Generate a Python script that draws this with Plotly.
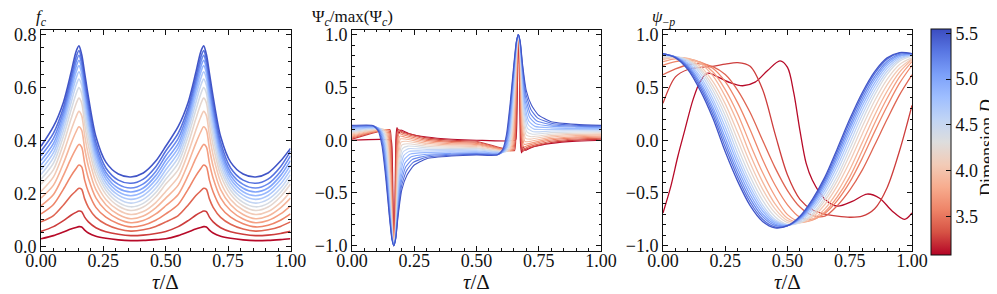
import plotly.graph_objects as go
from plotly.colors import sample_colorscale

# ---------------- data ----------------
# dimension D of each curve (red = low D, blue = high D)
D = [3.10, 3.26, 3.42, 3.58, 3.74, 3.90, 4.06, 4.22, 4.38, 4.54, 4.70, 4.86, 5.02, 5.18, 5.34, 5.50]
D_RANGE = [3.08, 5.55]

# panel 1 : f_c
fc_tau = [0, 0.05, 0.09, 0.12, 0.14, 0.152, 0.163, 0.175, 0.19, 0.22, 0.26, 0.31, 0.36, 0.41, 0.46,
          0.5, 0.55, 0.59, 0.62, 0.64, 0.652, 0.663, 0.675, 0.69, 0.72, 0.76, 0.81, 0.86, 0.91, 0.96, 1.0]
fc = [
    [0.028, 0.040, 0.054, 0.065, 0.071, 0.074, 0.073, 0.061, 0.050, 0.038, 0.030, 0.024, 0.021, 0.022, 0.025,
     0.028, 0.040, 0.054, 0.065, 0.071, 0.074, 0.073, 0.061, 0.050, 0.038, 0.030, 0.024, 0.021, 0.022, 0.025, 0.028],
    [0.056, 0.074, 0.097, 0.117, 0.128, 0.133, 0.131, 0.110, 0.092, 0.070, 0.055, 0.045, 0.040, 0.042, 0.048,
     0.056, 0.074, 0.097, 0.117, 0.128, 0.133, 0.131, 0.110, 0.092, 0.070, 0.055, 0.045, 0.040, 0.042, 0.048, 0.056],
    [0.092, 0.116, 0.156, 0.191, 0.209, 0.219, 0.215, 0.179, 0.147, 0.109, 0.083, 0.065, 0.057, 0.062, 0.075,
     0.092, 0.116, 0.156, 0.191, 0.209, 0.219, 0.215, 0.179, 0.147, 0.109, 0.083, 0.065, 0.057, 0.062, 0.075, 0.092],
    [0.122, 0.158, 0.216, 0.265, 0.293, 0.307, 0.300, 0.250, 0.205, 0.147, 0.110, 0.085, 0.073, 0.079, 0.098,
     0.122, 0.158, 0.216, 0.265, 0.293, 0.307, 0.300, 0.250, 0.205, 0.147, 0.110, 0.085, 0.073, 0.079, 0.098, 0.122],
    [0.153, 0.196, 0.268, 0.331, 0.368, 0.385, 0.375, 0.314, 0.257, 0.183, 0.135, 0.103, 0.089, 0.097, 0.122,
     0.153, 0.196, 0.268, 0.331, 0.368, 0.385, 0.375, 0.314, 0.257, 0.183, 0.135, 0.103, 0.089, 0.097, 0.122, 0.153],
    [0.182, 0.231, 0.314, 0.388, 0.432, 0.452, 0.439, 0.370, 0.302, 0.214, 0.157, 0.120, 0.104, 0.114, 0.145,
     0.182, 0.231, 0.314, 0.388, 0.432, 0.452, 0.439, 0.370, 0.302, 0.214, 0.157, 0.120, 0.104, 0.114, 0.145, 0.182],
    [0.207, 0.262, 0.354, 0.437, 0.488, 0.510, 0.494, 0.419, 0.344, 0.243, 0.177, 0.137, 0.120, 0.131, 0.165,
     0.207, 0.262, 0.354, 0.437, 0.488, 0.510, 0.494, 0.419, 0.344, 0.243, 0.177, 0.137, 0.120, 0.131, 0.165, 0.207],
    [0.235, 0.290, 0.388, 0.480, 0.537, 0.560, 0.542, 0.462, 0.381, 0.269, 0.196, 0.152, 0.135, 0.148, 0.187,
     0.235, 0.290, 0.388, 0.480, 0.537, 0.560, 0.542, 0.462, 0.381, 0.269, 0.196, 0.152, 0.135, 0.148, 0.187, 0.235],
    [0.253, 0.314, 0.416, 0.513, 0.575, 0.600, 0.579, 0.497, 0.412, 0.290, 0.212, 0.166, 0.149, 0.162, 0.203,
     0.253, 0.314, 0.416, 0.513, 0.575, 0.600, 0.579, 0.497, 0.412, 0.290, 0.212, 0.166, 0.149, 0.162, 0.203, 0.253],
    [0.271, 0.335, 0.439, 0.541, 0.607, 0.632, 0.609, 0.526, 0.438, 0.309, 0.226, 0.180, 0.163, 0.177, 0.219,
     0.271, 0.335, 0.439, 0.541, 0.607, 0.632, 0.609, 0.526, 0.438, 0.309, 0.226, 0.180, 0.163, 0.177, 0.219, 0.271],
    [0.289, 0.354, 0.460, 0.565, 0.634, 0.660, 0.634, 0.552, 0.462, 0.327, 0.240, 0.193, 0.177, 0.192, 0.235,
     0.289, 0.354, 0.460, 0.565, 0.634, 0.660, 0.634, 0.552, 0.462, 0.327, 0.240, 0.193, 0.177, 0.192, 0.235, 0.289],
    [0.307, 0.372, 0.477, 0.585, 0.657, 0.683, 0.655, 0.574, 0.483, 0.344, 0.254, 0.206, 0.191, 0.206, 0.251,
     0.307, 0.372, 0.477, 0.585, 0.657, 0.683, 0.655, 0.574, 0.483, 0.344, 0.254, 0.206, 0.191, 0.206, 0.251, 0.307],
    [0.324, 0.389, 0.493, 0.602, 0.677, 0.703, 0.673, 0.594, 0.503, 0.359, 0.267, 0.219, 0.205, 0.220, 0.267,
     0.324, 0.389, 0.493, 0.602, 0.677, 0.703, 0.673, 0.594, 0.503, 0.359, 0.267, 0.219, 0.205, 0.220, 0.267, 0.324],
    [0.342, 0.408, 0.509, 0.619, 0.696, 0.722, 0.690, 0.614, 0.522, 0.375, 0.280, 0.234, 0.220, 0.236, 0.283,
     0.342, 0.408, 0.509, 0.619, 0.696, 0.722, 0.690, 0.614, 0.522, 0.375, 0.280, 0.234, 0.220, 0.236, 0.283, 0.342],
    [0.360, 0.428, 0.525, 0.636, 0.714, 0.740, 0.706, 0.633, 0.542, 0.393, 0.296, 0.250, 0.238, 0.254, 0.301,
     0.360, 0.428, 0.525, 0.636, 0.714, 0.740, 0.706, 0.633, 0.542, 0.393, 0.296, 0.250, 0.238, 0.254, 0.301, 0.360],
    [0.378, 0.453, 0.545, 0.655, 0.735, 0.758, 0.725, 0.655, 0.565, 0.415, 0.318, 0.273, 0.262, 0.277, 0.322,
     0.378, 0.453, 0.545, 0.655, 0.735, 0.758, 0.725, 0.655, 0.565, 0.415, 0.318, 0.273, 0.262, 0.277, 0.322, 0.370],
]

# panel 2 : Psi_c / max(Psi_c)
psi_tau = [
    [0, 0.157, 0.16, 0.162, 0.1638, 0.1657, 0.167, 0.168, 0.17, 0.172, 0.176, 0.1795, 0.181, 0.1835, 0.1865, 0.19, 0.195, 0.2, 0.21, 0.23, 0.3, 0.4,
     0.5, 0.657, 0.66, 0.662, 0.6638, 0.6657, 0.667, 0.668, 0.67, 0.672, 0.676, 0.6795, 0.681, 0.6835, 0.6865, 0.69, 0.695, 0.7, 0.71, 0.73, 0.8, 0.9, 1.0],
    [0, 0.1522, 0.1563, 0.1591, 0.1619, 0.1646, 0.1665, 0.168, 0.1704, 0.1729, 0.1776, 0.1837, 0.2013, 0.3, 0.4,
     0.5, 0.6522, 0.6563, 0.6591, 0.6619, 0.6646, 0.6665, 0.668, 0.6704, 0.6729, 0.6776, 0.6837, 0.7013, 0.8, 0.9, 1.0],
    [0, 0.1473, 0.1527, 0.1564, 0.16, 0.1636, 0.166, 0.168, 0.1708, 0.1737, 0.1792, 0.1863, 0.2047, 0.3, 0.4,
     0.5, 0.6473, 0.6527, 0.6564, 0.66, 0.6636, 0.666, 0.668, 0.6708, 0.6737, 0.6792, 0.6863, 0.7047, 0.8, 0.9, 1.0],
    [0, 0.1423, 0.149, 0.1536, 0.1581, 0.1625, 0.1655, 0.168, 0.1712, 0.1746, 0.1808, 0.189, 0.208, 0.3, 0.4,
     0.5, 0.6423, 0.649, 0.6536, 0.6581, 0.6625, 0.6655, 0.668, 0.6712, 0.6746, 0.6808, 0.689, 0.708, 0.8, 0.9, 1.0],
    [0, 0.1374, 0.1453, 0.1507, 0.1562, 0.1614, 0.165, 0.168, 0.1716, 0.1755, 0.1824, 0.1917, 0.2113, 0.3, 0.4,
     0.5, 0.6374, 0.6453, 0.6507, 0.6562, 0.6614, 0.665, 0.668, 0.6716, 0.6755, 0.6824, 0.6917, 0.7113, 0.8, 0.9, 1.0],
    [0, 0.1325, 0.1417, 0.148, 0.1543, 0.1604, 0.1646, 0.168, 0.172, 0.1763, 0.184, 0.1943, 0.2147, 0.3, 0.4,
     0.5, 0.6325, 0.6417, 0.648, 0.6543, 0.6604, 0.6646, 0.668, 0.672, 0.6763, 0.684, 0.6943, 0.7147, 0.8, 0.9, 1.0],
    [0, 0.1275, 0.138, 0.1452, 0.1524, 0.1593, 0.1641, 0.168, 0.1724, 0.1772, 0.1856, 0.197, 0.218, 0.3, 0.4,
     0.5, 0.6275, 0.638, 0.6452, 0.6524, 0.6593, 0.6641, 0.668, 0.6724, 0.6772, 0.6856, 0.697, 0.718, 0.8, 0.9, 1.0],
    [0, 0.1225, 0.1343, 0.1424, 0.1505, 0.1582, 0.1636, 0.168, 0.1728, 0.1781, 0.1872, 0.1997, 0.2213, 0.3, 0.4,
     0.5, 0.6225, 0.6343, 0.6424, 0.6505, 0.6582, 0.6636, 0.668, 0.6728, 0.6781, 0.6872, 0.6997, 0.7213, 0.8, 0.9, 1.0],
    [0, 0.1176, 0.1307, 0.1397, 0.1486, 0.1572, 0.1632, 0.168, 0.1732, 0.1789, 0.1888, 0.2023, 0.2247, 0.3, 0.4,
     0.5, 0.6176, 0.6307, 0.6397, 0.6486, 0.6572, 0.6632, 0.668, 0.6732, 0.6789, 0.6888, 0.7023, 0.7247, 0.8, 0.9, 1.0],
    [0, 0.1126, 0.127, 0.1368, 0.1467, 0.1561, 0.1627, 0.168, 0.1736, 0.1798, 0.1904, 0.205, 0.228, 0.3, 0.4,
     0.5, 0.6126, 0.627, 0.6368, 0.6467, 0.6561, 0.6627, 0.668, 0.6736, 0.6798, 0.6904, 0.705, 0.728, 0.8, 0.9, 1.0],
    [0, 0.1077, 0.1233, 0.134, 0.1448, 0.155, 0.1622, 0.168, 0.174, 0.1807, 0.192, 0.2077, 0.2313, 0.3, 0.4,
     0.5, 0.6077, 0.6233, 0.634, 0.6448, 0.655, 0.6622, 0.668, 0.674, 0.6807, 0.692, 0.7077, 0.7313, 0.8, 0.9, 1.0],
    [0, 0.1028, 0.1197, 0.1313, 0.1429, 0.154, 0.1617, 0.168, 0.1744, 0.1815, 0.1936, 0.2103, 0.2347, 0.3, 0.4,
     0.5, 0.6028, 0.6197, 0.6313, 0.6429, 0.654, 0.6617, 0.668, 0.6744, 0.6815, 0.6936, 0.7103, 0.7347, 0.8, 0.9, 1.0],
    [0, 0.0978, 0.116, 0.1285, 0.141, 0.1529, 0.1612, 0.168, 0.1748, 0.1824, 0.1952, 0.213, 0.238, 0.3, 0.4,
     0.5, 0.5978, 0.616, 0.6285, 0.641, 0.6529, 0.6612, 0.668, 0.6748, 0.6824, 0.6952, 0.713, 0.738, 0.8, 0.9, 1.0],
    [0, 0.0928, 0.1123, 0.1257, 0.139, 0.1518, 0.1608, 0.168, 0.1752, 0.1833, 0.1968, 0.2157, 0.2413, 0.3, 0.4,
     0.5, 0.5928, 0.6123, 0.6257, 0.639, 0.6518, 0.6608, 0.668, 0.6752, 0.6833, 0.6968, 0.7157, 0.7413, 0.8, 0.9, 1.0],
    [0, 0.0879, 0.1087, 0.1229, 0.1372, 0.1508, 0.1603, 0.168, 0.1756, 0.1841, 0.1984, 0.2183, 0.2447, 0.3, 0.4,
     0.5, 0.5879, 0.6087, 0.6229, 0.6372, 0.6508, 0.6603, 0.668, 0.6756, 0.6841, 0.6984, 0.7183, 0.7447, 0.8, 0.9, 1.0],
    [0, 0.083, 0.105, 0.1201, 0.1352, 0.1497, 0.1598, 0.168, 0.176, 0.185, 0.2, 0.221, 0.248, 0.3, 0.4,
     0.5, 0.583, 0.605, 0.6201, 0.6352, 0.6497, 0.6598, 0.668, 0.676, 0.685, 0.7, 0.721, 0.748, 0.8, 0.9, 1.0],
]
psi = [
    [0, 0, -0.045, -0.167, -0.43, -0.75, -0.94, -1, -0.93, -0.72, 0, 0.105, 0.12, 0.1, 0.066, 0.07, 0.095, 0.094, 0.082, 0.062, 0.03, 0.009,
     0, 0, 0.045, 0.167, 0.43, 0.75, 0.94, 1, 0.93, 0.72, 0, -0.105, -0.12, -0.1, -0.066, -0.07, -0.095, -0.094, -0.082, -0.062, -0.03, -0.009, 0],
    [0.01, 0.1, 0.05, -0.084, -0.373, -0.725, -0.934, -1, -0.93, -0.72, -0.031, 0.107, 0.08, 0.022, -0.001,
     -0.01, -0.1, -0.05, 0.084, 0.373, 0.725, 0.934, 1, 0.93, 0.72, 0.031, -0.107, -0.08, -0.022, 0.001, 0.01],
    [0.02, 0.1, 0.05, -0.084, -0.373, -0.725, -0.934, -1, -0.93, -0.72, -0.063, 0.087, 0.066, 0.01, -0.011,
     -0.02, -0.1, -0.05, 0.084, 0.373, 0.725, 0.934, 1, 0.93, 0.72, 0.063, -0.087, -0.066, -0.01, 0.011, 0.02],
    [0.03, 0.1, 0.05, -0.084, -0.373, -0.725, -0.934, -1, -0.93, -0.72, -0.094, 0.064, 0.049, -0.002, -0.022,
     -0.03, -0.1, -0.05, 0.084, 0.373, 0.725, 0.934, 1, 0.93, 0.72, 0.094, -0.064, -0.049, 0.002, 0.022, 0.03],
    [0.04, 0.1, 0.05, -0.084, -0.373, -0.725, -0.934, -1, -0.93, -0.72, -0.125, 0.039, 0.031, -0.015, -0.033,
     -0.04, -0.1, -0.05, 0.084, 0.373, 0.725, 0.934, 1, 0.93, 0.72, 0.125, -0.039, -0.031, 0.015, 0.033, 0.04],
    [0.05, 0.1, 0.05, -0.084, -0.373, -0.725, -0.934, -1, -0.93, -0.72, -0.157, 0.012, 0.011, -0.029, -0.044,
     -0.05, -0.1, -0.05, 0.084, 0.373, 0.725, 0.934, 1, 0.93, 0.72, 0.157, -0.012, -0.011, 0.029, 0.044, 0.05],
    [0.06, 0.105, 0.055, -0.08, -0.37, -0.724, -0.934, -1, -0.93, -0.72, -0.188, -0.017, -0.01, -0.043, -0.055,
     -0.06, -0.105, -0.055, 0.08, 0.37, 0.724, 0.934, 1, 0.93, 0.72, 0.188, 0.017, 0.01, 0.043, 0.055, 0.06],
    [0.07, 0.105, 0.055, -0.08, -0.37, -0.724, -0.934, -1, -0.93, -0.72, -0.219, -0.047, -0.033, -0.057, -0.066,
     -0.07, -0.105, -0.055, 0.08, 0.37, 0.724, 0.934, 1, 0.93, 0.72, 0.219, 0.047, 0.033, 0.057, 0.066, 0.07],
    [0.08, 0.11, 0.06, -0.075, -0.367, -0.723, -0.933, -1, -0.93, -0.72, -0.251, -0.079, -0.056, -0.072, -0.078,
     -0.08, -0.11, -0.06, 0.075, 0.367, 0.723, 0.933, 1, 0.93, 0.72, 0.251, 0.079, 0.056, 0.072, 0.078, 0.08],
    [0.09, 0.11, 0.06, -0.075, -0.367, -0.723, -0.933, -1, -0.93, -0.72, -0.282, -0.112, -0.08, -0.087, -0.089,
     -0.09, -0.11, -0.06, 0.075, 0.367, 0.723, 0.933, 1, 0.93, 0.72, 0.282, 0.112, 0.08, 0.087, 0.089, 0.09],
    [0.1, 0.115, 0.065, -0.071, -0.364, -0.721, -0.933, -1, -0.93, -0.72, -0.313, -0.146, -0.105, -0.102, -0.101,
     -0.1, -0.115, -0.065, 0.071, 0.364, 0.721, 0.933, 1, 0.93, 0.72, 0.313, 0.146, 0.105, 0.102, 0.101, 0.1],
    [0.11, 0.12, 0.07, -0.067, -0.362, -0.72, -0.933, -1, -0.93, -0.72, -0.345, -0.181, -0.131, -0.117, -0.112,
     -0.11, -0.12, -0.07, 0.067, 0.362, 0.72, 0.933, 1, 0.93, 0.72, 0.345, 0.181, 0.131, 0.117, 0.112, 0.11],
    [0.12, 0.125, 0.074, -0.063, -0.359, -0.719, -0.933, -1, -0.93, -0.72, -0.376, -0.217, -0.157, -0.133, -0.124,
     -0.12, -0.125, -0.074, 0.063, 0.359, 0.719, 0.933, 1, 0.93, 0.72, 0.376, 0.217, 0.157, 0.133, 0.124, 0.12],
    [0.127, 0.13, 0.079, -0.059, -0.356, -0.718, -0.932, -1, -0.93, -0.72, -0.407, -0.254, -0.184, -0.147, -0.133,
     -0.127, -0.13, -0.079, 0.059, 0.356, 0.718, 0.932, 1, 0.93, 0.72, 0.407, 0.254, 0.184, 0.147, 0.133, 0.127],
    [0.134, 0.135, 0.084, -0.055, -0.353, -0.716, -0.932, -1, -0.93, -0.72, -0.439, -0.291, -0.212, -0.161, -0.142,
     -0.134, -0.135, -0.084, 0.055, 0.353, 0.716, 0.932, 1, 0.93, 0.72, 0.439, 0.291, 0.212, 0.161, 0.142, 0.134],
    [0.14, 0.14, 0.089, -0.05, -0.35, -0.715, -0.932, -1, -0.93, -0.72, -0.47, -0.33, -0.24, -0.175, -0.15,
     -0.14, -0.14, -0.089, 0.05, 0.35, 0.715, 0.932, 1, 0.93, 0.72, 0.47, 0.33, 0.24, 0.175, 0.15, 0.14],
]

# panel 3 : psi_{-p}
grid_tau = [0, 0.05, 0.1, 0.15, 0.2, 0.25, 0.3, 0.35, 0.4, 0.45, 0.5,
            0.55, 0.6, 0.65, 0.7, 0.75, 0.8, 0.85, 0.9, 0.95, 1.0]
lowest_tau = [0, 0.03, 0.06, 0.087, 0.12, 0.15, 0.18, 0.22, 0.27, 0.32, 0.37, 0.42, 0.47, 0.5,
              0.525, 0.55, 0.575, 0.6, 0.65, 0.7, 0.76, 0.82, 0.87, 0.92, 0.97, 1.0]
psi_p = [
    [-0.69, -0.45, -0.15, 0.09, 0.38, 0.56, 0.635, 0.6, 0.545, 0.516, 0.55, 0.66, 0.752, 0.69,
     0.45, 0.09, -0.22, -0.38, -0.56, -0.625, -0.58, -0.51, -0.55, -0.67, -0.75, -0.69],
    [0.35, 0.6, 0.67, 0.69, 0.70, 0.72, 0.735, 0.70, 0.48, 0.06, -0.33, -0.56, -0.66, -0.70, -0.72, -0.73, -0.72, -0.65, -0.45, -0.10, 0.33],
    [0.62, 0.675, 0.715, 0.724, 0.698, 0.622, 0.473, 0.262, -0.001, -0.26, -0.477, -0.633, -0.713, -0.72, -0.62, -0.474, -0.284, -0.046, 0.198, 0.43, 0.62],
    [0.71, 0.745, 0.76, 0.739, 0.682, 0.555, 0.354, 0.099, -0.183, -0.425, -0.612, -0.73, -0.749, -0.692, -0.572, -0.398, -0.172, 0.081, 0.321, 0.54, 0.71],
    [0.745, 0.77, 0.772, 0.737, 0.648, 0.48, 0.249, -0.037, -0.306, -0.531, -0.705, -0.77, -0.758, -0.681, -0.538, -0.347, -0.1, 0.161, 0.397, 0.6, 0.745],
    [0.765, 0.784, 0.775, 0.726, 0.611, 0.415, 0.163, -0.136, -0.395, -0.604, -0.74, -0.781, -0.749, -0.651, -0.49, -0.28, -0.023, 0.237, 0.464, 0.645, 0.765],
    [0.772, 0.786, 0.765, 0.699, 0.558, 0.344, 0.072, -0.217, -0.464, -0.65, -0.762, -0.781, -0.728, -0.609, -0.433, -0.205, 0.057, 0.309, 0.524, 0.681, 0.772],
    [0.781, 0.789, 0.76, 0.678, 0.515, 0.286, -0.001, -0.283, -0.519, -0.689, -0.781, -0.781, -0.711, -0.573, -0.383, -0.139, 0.127, 0.374, 0.577, 0.718, 0.781],
    [0.797, 0.792, 0.757, 0.659, 0.476, 0.232, -0.069, -0.343, -0.571, -0.725, -0.799, -0.781, -0.696, -0.543, -0.341, -0.082, 0.187, 0.429, 0.623, 0.749, 0.797],
    [0.804, 0.792, 0.748, 0.634, 0.436, 0.179, -0.128, -0.396, -0.613, -0.752, -0.801, -0.77, -0.67, -0.506, -0.292, -0.029, 0.238, 0.471, 0.653, 0.765, 0.804],
    [0.807, 0.79, 0.733, 0.603, 0.393, 0.124, -0.179, -0.439, -0.643, -0.767, -0.803, -0.759, -0.646, -0.473, -0.247, 0.02, 0.283, 0.509, 0.68, 0.779, 0.807],
    [0.81, 0.789, 0.721, 0.575, 0.354, 0.075, -0.224, -0.478, -0.671, -0.781, -0.805, -0.749, -0.625, -0.443, -0.206, 0.065, 0.324, 0.544, 0.705, 0.791, 0.81],
    [0.814, 0.787, 0.708, 0.547, 0.315, 0.024, -0.269, -0.517, -0.699, -0.795, -0.807, -0.742, -0.607, -0.416, -0.17, 0.104, 0.361, 0.575, 0.727, 0.803, 0.814],
    [0.818, 0.787, 0.697, 0.523, 0.281, -0.02, -0.31, -0.553, -0.724, -0.808, -0.81, -0.736, -0.591, -0.394, -0.138, 0.137, 0.393, 0.602, 0.746, 0.814, 0.818],
    [0.821, 0.786, 0.685, 0.498, 0.246, -0.065, -0.351, -0.588, -0.749, -0.822, -0.812, -0.729, -0.576, -0.371, -0.107, 0.172, 0.425, 0.63, 0.767, 0.825, 0.821],
    [0.82, 0.78, 0.67, 0.47, 0.21, -0.11, -0.39, -0.62, -0.77, -0.83, -0.81, -0.72, -0.56, -0.35, -0.08, 0.2, 0.45, 0.65, 0.78, 0.83, 0.82],
]
psi_p_tau = [lowest_tau] + [grid_tau] * 15

# ---------------- styling ----------------
W, H = 997, 294
FONT = "Liberation Serif"
INK = "#111111"
# coolwarm, reversed so that low D is red
CMAP = [[0.0, "#b40426"], [0.1, "#d65244"], [0.2, "#ee8468"], [0.3, "#f7ac8e"], [0.4, "#f2cbb7"],
        [0.5, "#dddddd"], [0.6, "#c0d4f5"], [0.7, "#9ebeff"], [0.8, "#7b9ff9"], [0.9, "#5977e3"],
        [1.0, "#3b4cc0"]]

def col(d):
    return sample_colorscale(CMAP, [(d - D_RANGE[0]) / (D_RANGE[1] - D_RANGE[0])])[0]

top_px, bot_px = 21.7, 242.7
ydom = [1 - bot_px / H, 1 - top_px / H]
xdoms = [[33 / W, 282.5 / W], [344 / W, 593 / W], [655 / W, 904 / W]]

fig = go.Figure()

for k, d in enumerate(D):
    fig.add_trace(go.Scatter(x=fc_tau, y=fc[k], mode="lines", xaxis="x", yaxis="y",
                             line=dict(color=col(d), width=1.6, shape="spline", smoothing=0.8),
                             showlegend=False, hoverinfo="skip"))
for k, d in enumerate(D):
    fig.add_trace(go.Scatter(x=psi_tau[k], y=psi[k], mode="lines", xaxis="x2", yaxis="y2",
                             line=dict(color=col(d), width=1.1, shape="spline", smoothing=0.5),
                             showlegend=False, hoverinfo="skip"))
for k, d in enumerate(D):
    fig.add_trace(go.Scatter(x=psi_p_tau[k], y=psi_p[k], mode="lines", xaxis="x3", yaxis="y3",
                             line=dict(color=col(d), width=1.3, shape="spline", smoothing=0.9),
                             showlegend=False, hoverinfo="skip"))

# colour bar carrier
fig.add_trace(go.Scatter(
    x=[0.5, 0.5], y=[0.4, 0.4], mode="markers", xaxis="x", yaxis="y",
    marker=dict(size=1, opacity=0, color=D_RANGE, cmin=D_RANGE[0], cmax=D_RANGE[1],
                colorscale=CMAP, showscale=True,
                colorbar=dict(x=923 / W, xanchor="left", xpad=0, ypad=0,
                              y=1 - 133.7 / H, yanchor="middle",
                              len=226, lenmode="pixels", thickness=20, thicknessmode="pixels",
                              outlinewidth=1, outlinecolor=INK,
                              tickvals=[3.5, 4.0, 4.5, 5.0, 5.5], tickformat=".1f",
                              ticks="inside", ticklen=5, tickcolor=INK,
                              tickfont=dict(family=FONT, size=18, color=INK))),
    showlegend=False, hoverinfo="skip"))

tickfont = dict(family=FONT, size=18, color=INK)
def xax(dom, anchor):
    return dict(domain=dom, anchor=anchor, range=[0, 1], tick0=0, dtick=0.25, tickformat=".2f",
                ticks="inside", ticklen=5, tickcolor=INK, showline=True, linecolor=INK, linewidth=1,
                mirror="ticks", showgrid=False, zeroline=False, tickfont=tickfont, automargin=False,
                ticklabelstandoff=-6,
                minor=dict(dtick=0.05, ticks="inside", ticklen=2.5, tickcolor=INK))
def yax(dom, anchor, rng, dt, mdt):
    return dict(domain=dom, anchor=anchor, range=rng, tick0=0, dtick=dt, tickformat=".1f",
                ticks="inside", ticklen=5, tickcolor=INK, showline=True, linecolor=INK, linewidth=1,
                mirror="ticks", showgrid=False, zeroline=False, tickfont=tickfont, automargin=False,
                minor=dict(dtick=mdt, ticks="inside", ticklen=2.5, tickcolor=INK))

fig.update_layout(
    width=W, height=H, autosize=False, margin=dict(l=0, r=0, t=0, b=0),
    paper_bgcolor="white", plot_bgcolor="white",
    xaxis=xax(xdoms[0], "y"), yaxis=yax(ydom, "x", [-0.017, 0.819], 0.2, 0.05),
    xaxis2=xax(xdoms[1], "y2"), yaxis2=yax(ydom, "x2", [-1.047, 1.047], 0.5, 0.1),
    xaxis3=xax(xdoms[2], "y3"), yaxis3=yax(ydom, "x3", [-1.047, 1.047], 0.5, 0.1),
)

titles = [("x", "<i>f</i><sub><i>c</i></sub>"),
          ("x2", "Ψ<sub><i>c</i></sub>/max(Ψ<sub><i>c</i></sub>)"),
          ("x3", "<i>ψ</i><sub>−<i>p</i></sub>")]
for xa, txt in titles:
    fig.add_annotation(x=0, y=1 - 10.5 / H, xref=xa + " domain", yref="paper", text=txt,
                       showarrow=False, xanchor="center", yanchor="middle",
                       font=dict(family=FONT, size=17, color=INK))
    fig.add_annotation(x=0.5, y=1 - 274 / H, xref=xa + " domain", yref="paper", text="<i>τ</i>/Δ",
                       showarrow=False, xanchor="center", yanchor="middle",
                       font=dict(family=FONT, size=21, color=INK))
fig.add_annotation(x=979 / W, y=1 - 140 / H, xref="paper", yref="paper", text="Dimension <i>D</i>",
                   textangle=-90, showarrow=False, xanchor="center", yanchor="middle",
                   font=dict(family=FONT, size=18, color=INK))

fig.write_html("out.html")
